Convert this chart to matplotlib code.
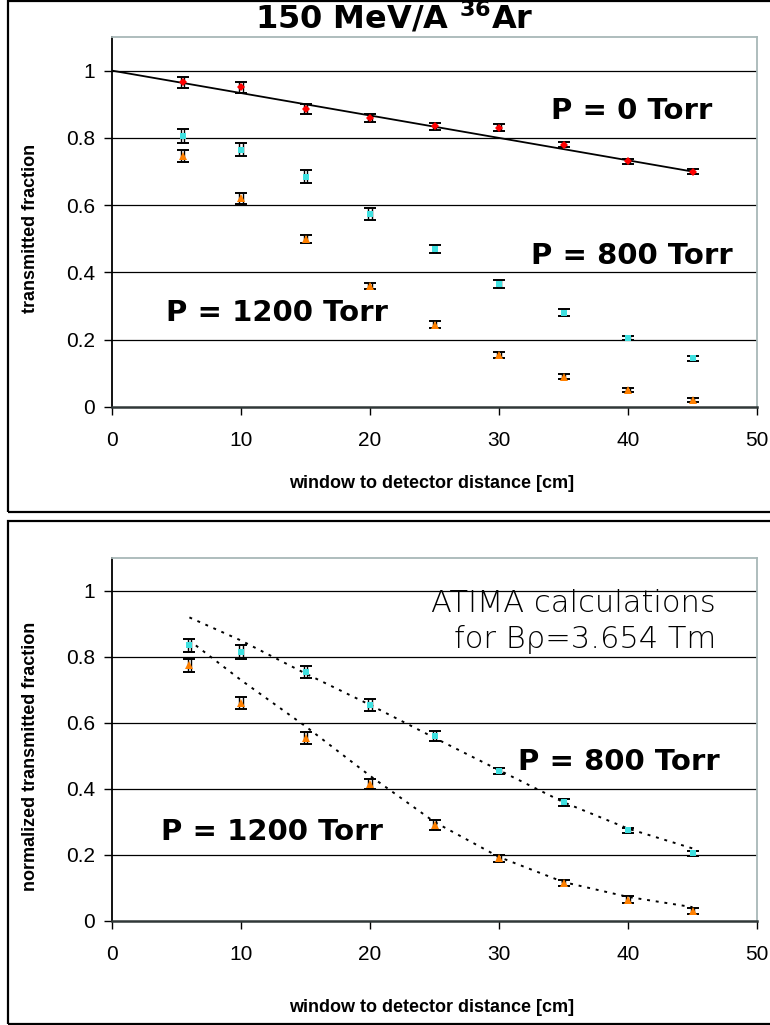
import numpy as np
import matplotlib
matplotlib.use("Agg")
import matplotlib.pyplot as plt
from matplotlib.patches import Rectangle

# ---- data ----
x_top = [5.5, 10, 15, 20, 25, 30, 35, 40, 45]
p0 = [0.965, 0.95, 0.885, 0.86, 0.835, 0.83, 0.78, 0.73, 0.70]
p0_err = [0.017, 0.015, 0.015, 0.012, 0.01, 0.01, 0.008, 0.008, 0.007]
p800 = [0.805, 0.765, 0.685, 0.575, 0.47, 0.365, 0.28, 0.205, 0.145]
p800_err = [0.02, 0.02, 0.02, 0.018, 0.012, 0.012, 0.01, 0.007, 0.007]
p1200 = [0.745, 0.62, 0.50, 0.36, 0.245, 0.155, 0.09, 0.05, 0.02]
p1200_err = [0.018, 0.015, 0.012, 0.01, 0.01, 0.008, 0.008, 0.006, 0.006]
fit_x = [0, 45]
fit_y = [1.0, 0.70]

x_bot = [6, 10, 15, 20, 25, 30, 35, 40, 45]
n800 = [0.835, 0.815, 0.755, 0.655, 0.56, 0.455, 0.36, 0.275, 0.205]
n800_err = [0.02, 0.02, 0.018, 0.018, 0.015, 0.01, 0.01, 0.008, 0.008]
n1200 = [0.775, 0.66, 0.555, 0.415, 0.29, 0.19, 0.115, 0.065, 0.03]
n1200_err = [0.02, 0.018, 0.018, 0.015, 0.015, 0.01, 0.01, 0.01, 0.008]

atima800_x = [6, 10, 15, 20, 25, 30, 35, 40, 45]
atima800_y = [0.92, 0.85, 0.75, 0.655, 0.555, 0.457, 0.36, 0.28, 0.22]
atima1200_x = [6.5, 10, 15, 20, 25, 30, 35, 40, 45]
atima1200_y = [0.835, 0.73, 0.59, 0.44, 0.30, 0.194, 0.118, 0.073, 0.042]

xticks = [0, 10, 20, 30, 40, 50]
yticks = [0, 0.2, 0.4, 0.6, 0.8, 1.0]
ytick_labels = ["0", "0.2", "0.4", "0.6", "0.8", "1"]

RED = "#ff0000"
CYAN = "#40e0e0"
ORANGE = "#ff8000"
BORDER = "#a8b8b8"

plt.rcParams['font.family'] = ['Liberation Sans', 'DejaVu Sans']

W, H = 770, 1025
fig = plt.figure(figsize=(W / 100, H / 100), dpi=100)


def px(x, y):
    # pixel position -> figure fraction
    return x / W, 1 - y / H


# outer panel frames
for (y0, y1) in [(1, 512), (521, 1024)]:
    fig.add_artist(Rectangle((8 / W, 1 - y1 / H), (W + 10) / W, (y1 - y0) / H,
                             transform=fig.transFigure, fill=False,
                             edgecolor="black", linewidth=1.6, clip_on=False))


def style_axes(ax):
    ax.set_xlim(0, 50)
    ax.set_ylim(0, 1.1)
    ax.set_xticks(xticks)
    ax.set_yticks(yticks)
    ax.set_yticklabels(ytick_labels)
    ax.tick_params(axis="both", direction="out", length=6, width=1,
                   labelsize=15)
    ax.tick_params(axis="x", pad=11)
    ax.tick_params(axis="y", pad=6)
    for y in yticks[1:]:
        ax.axhline(y, color="black", linewidth=0.9, zorder=1)
    ax.spines["left"].set_color("black")
    ax.spines["bottom"].set_color("#303838")
    ax.spines["top"].set_color(BORDER)
    ax.spines["right"].set_color(BORDER)
    for s in ax.spines.values():
        s.set_linewidth(1.3)
    ax.spines["bottom"].set_linewidth(1.8)


def points(ax, x, y, err, marker, color, ms):
    xs = np.asarray(x, dtype=float)
    for off in (-0.12, 0.12):
        ax.errorbar(xs + off, y, yerr=err, fmt="none", ecolor="black",
                    elinewidth=1.0, capsize=0, zorder=3)
    ax.errorbar(xs, y, yerr=err, fmt="none", ecolor="black",
                elinewidth=0, capsize=4, capthick=1.4, zorder=3)
    ax.plot(x, y, linestyle="none", marker=marker, color=color,
            markersize=ms, markeredgewidth=0, zorder=4)


lab = dict(fontsize=13, fontweight="bold")
big = dict(fontsize=21, fontweight="bold", family=["DejaVu Sans"],
           ha="center", va="center")
thin = dict(fontsize=22, family=["DejaVu Sans"], fontweight="light",
            ha="right", va="center")

# ---- top panel ----
ax1 = fig.add_axes([112 / W, 1 - 407 / H, 645 / W, 370 / H])
style_axes(ax1)
ax1.plot(fit_x, fit_y, color="black", linewidth=1.3, zorder=2)
points(ax1, x_top, p0, p0_err, "D", RED, 4.5)
points(ax1, x_top, p800, p800_err, "s", CYAN, 5)
points(ax1, x_top, p1200, p1200_err, "^", ORANGE, 5.5)

fig.text(*px(31, 228), "transmitted fraction", rotation=90, ha="center",
         va="center", **lab)
fig.text(*px(432, 483), "window to detector distance [cm]", ha="center",
         va="center", **lab)
fig.text(*px(394, 18), r"150 MeV/A $^{\mathbf{36}}$Ar", ha="center",
         va="center", fontsize=23, fontweight="bold", family=["DejaVu Sans"])
fig.text(*px(632, 111), "P = 0 Torr", **big)
fig.text(*px(632, 256), "P = 800 Torr", **big)
fig.text(*px(277, 313), "P = 1200 Torr", **big)

# ---- bottom panel ----
ax2 = fig.add_axes([112 / W, 1 - 921 / H, 645 / W, 363 / H])
style_axes(ax2)
ax2.plot(atima800_x, atima800_y, color="black", linestyle=(0, (1.5, 3)),
         linewidth=1.4, zorder=2)
ax2.plot(atima1200_x, atima1200_y, color="black", linestyle=(0, (1.5, 3)),
         linewidth=1.4, zorder=2)
points(ax2, x_bot, n800, n800_err, "s", CYAN, 5)
points(ax2, x_bot, n1200, n1200_err, "^", ORANGE, 5.5)

fig.text(*px(31, 756), "normalized transmitted fraction", rotation=90,
         ha="center", va="center", **lab)
fig.text(*px(432, 1008), "window to detector distance [cm]", ha="center",
         va="center", **lab)
fig.text(*px(716, 604), "ATIMA calculations", **thin)
fig.text(*px(716, 639), "for Bρ=3.654 Tm", **thin)
fig.text(*px(619, 762), "P = 800 Torr", **big)
fig.text(*px(272, 832), "P = 1200 Torr", **big)

fig.savefig("out.png", dpi=100, facecolor="white")
